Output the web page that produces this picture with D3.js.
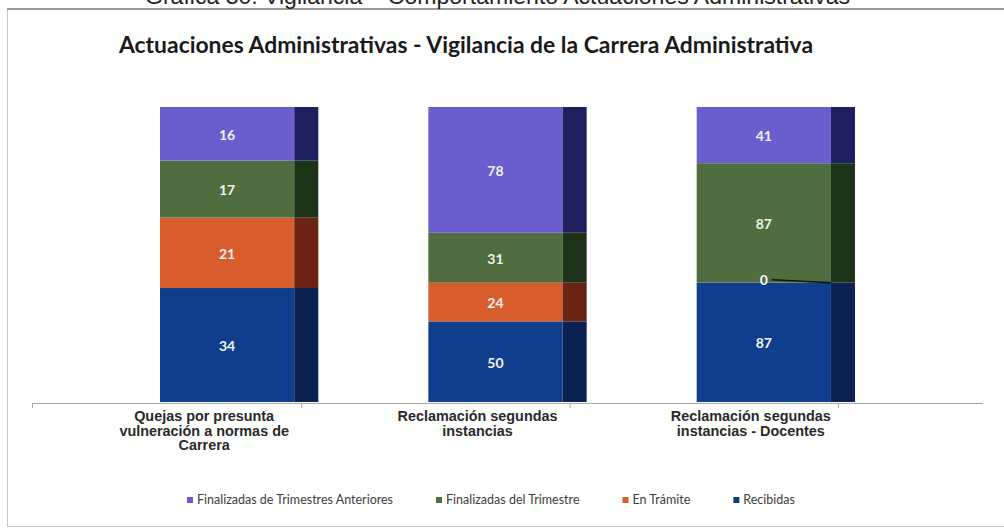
<!DOCTYPE html>
<html>
<head>
<meta charset="utf-8">
<script src="https://cdn.jsdelivr.net/npm/d3@7"></script>
<style>
  body { margin: 0; background: #fff; }
  svg { display: block; }
</style>
</head>
<body>
<svg class="chart"></svg>
<script>
const categories = ['Quejas por presunta vulneración a normas de Carrera', 'Reclamación segundas instancias', 'Reclamación segundas instancias - Docentes'];
const categoryLines = [
    ['Quejas por presunta', 'vulneración a normas de', 'Carrera'],
    ['Reclamación segundas', 'instancias'],
    ['Reclamación segundas', 'instancias - Docentes']
];
const seriesNames = ['Recibidas', 'En Trámite', 'Finalizadas del Trimestre', 'Finalizadas de Trimestres Anteriores'];
const recibidas = [34, 50, 87];
const enTramite = [21, 24, 0];
const finalizadasTrimestre = [17, 31, 87];
const finalizadasAnteriores = [16, 78, 41];
const legendOrder = ['Finalizadas de Trimestres Anteriores', 'Finalizadas del Trimestre', 'En Trámite', 'Recibidas'];

const colors = {
    'Recibidas': {front: '#0f3f8c', side: '#0a2152'},
    'En Trámite': {front: '#d85d2d', side: '#6b2414'},
    'Finalizadas del Trimestre': {front: '#4f6d3e', side: '#1c3318'},
    'Finalizadas de Trimestres Anteriores': {front: '#6a5dcd', side: '#1d1f5e'}
};

const width = 1004;
const height = 528;
const marginTop = 107;
const marginBottom = 126; // axis baseline at 402
const axisLeft = 32;
const axisRight = 983;
const sideFraction = 0.152; // dark side strip of the column

const table = categories.map((c, i) => ({
    category: c,
    'Recibidas': recibidas[i],
    'En Trámite': enTramite[i],
    'Finalizadas del Trimestre': finalizadasTrimestre[i],
    'Finalizadas de Trimestres Anteriores': finalizadasAnteriores[i]
}));

const stacked = d3.stack()
    .keys(seriesNames)
    .offset(d3.stackOffsetExpand)(table);

const xScale = d3.scaleBand()
    .domain(categories)
    .range([axisLeft, axisRight])
    .paddingInner(0.41)
    .paddingOuter(0.477);

const yScale = d3.scaleLinear()
    .domain([0, 1])
    .range([height - marginBottom, marginTop]);

const bw = xScale.bandwidth();
const sideW = bw * sideFraction;
const frontW = bw - sideW;

// category labels sit a little left of the columns (perspective of the 3D plot)
const labelScale = d3.scalePoint()
    .domain(categories)
    .range([xScale(categories[0]) + bw / 2 - 35, xScale(categories[categories.length - 1]) + bw / 2 - 25]);

const svg = d3.select('.chart')
    .attr('width', width)
    .attr('height', height)
    .attr('viewBox', [0, 0, width, height]);

// chart frame
svg.append('rect')
    .attr('x', 7.5)
    .attr('y', 9)
    .attr('width', 1010)
    .attr('height', 517.5)
    .attr('fill', '#fff')
    .attr('stroke', '#c8c8c8')
    .attr('stroke-width', 1);
svg.append('line')
    .attr('x1', 7).attr('x2', width)
    .attr('y1', 9).attr('y2', 9)
    .attr('stroke', '#9a9a9a')
    .attr('stroke-width', 2);

// caption cut at the top of the scan
svg.append('text')
    .attr('x', 145)
    .attr('y', 4)
    .attr('textLength', 705)
    .attr('lengthAdjust', 'spacingAndGlyphs')
    .attr('font-family', 'Liberation Sans, Arial, sans-serif')
    .attr('font-size', 22)
    .attr('fill', '#222')
    .text('Gráfica 30. Vigilancia – Comportamiento Actuaciones Administrativas');

svg.append('text')
    .attr('x', 119)
    .attr('y', 53)
    .attr('textLength', 694)
    .attr('lengthAdjust', 'spacingAndGlyphs')
    .attr('font-family', 'Lato, Carlito, Calibri, sans-serif')
    .attr('font-weight', 'bold')
    .attr('font-size', 22.5)
    .attr('fill', '#1a1a1a')
    .text('Actuaciones Administrativas - Vigilancia de la Carrera Administrativa');

// columns
const groups = svg.append('g')
    .selectAll('g')
    .data(stacked)
    .join('g');

groups.selectAll('rect.front')
    .data(s => s.map(d => ({key: s.key, d})))
    .join('rect')
        .attr('class', 'front')
        .attr('x', p => xScale(p.d.data.category))
        .attr('y', p => yScale(p.d[1]))
        .attr('width', frontW)
        .attr('height', p => yScale(p.d[0]) - yScale(p.d[1]))
        .attr('fill', p => colors[p.key].front);

groups.selectAll('rect.side')
    .data(s => s.map(d => ({key: s.key, d})))
    .join('rect')
        .attr('class', 'side')
        .attr('x', p => xScale(p.d.data.category) + frontW)
        .attr('y', p => yScale(p.d[1]))
        .attr('width', sideW)
        .attr('height', p => yScale(p.d[0]) - yScale(p.d[1]))
        .attr('fill', p => colors[p.key].side);

// value labels
const labels = stacked.flatMap(s => s.map(d => ({key: s.key, d, value: d.data[s.key]})));

svg.append('g')
    .selectAll('text')
    .data(labels)
    .join('text')
        .attr('x', p => xScale(p.d.data.category) + frontW / 2)
        .attr('y', p => p.value === 0 ? yScale(p.d[1]) - 3 : (yScale(p.d[0]) + yScale(p.d[1])) / 2 + 1)
        .attr('dy', '0.35em')
        .attr('text-anchor', 'middle')
        .attr('font-family', 'Lato, Carlito, Calibri, sans-serif')
        .attr('font-weight', 'bold')
        .attr('font-size', 14)
        .attr('fill', '#f2f2f2')
        .text(p => p.value);

// leader line for zero value
svg.append('g')
    .selectAll('line')
    .data(labels.filter(p => p.value === 0))
    .join('line')
        .attr('x1', p => xScale(p.d.data.category) + frontW / 2 + 8)
        .attr('y1', p => yScale(p.d[1]) - 3)
        .attr('x2', p => xScale(p.d.data.category) + frontW)
        .attr('y2', p => yScale(p.d[1]))
        .attr('stroke', '#111')
        .attr('stroke-width', 1.5);

// category axis
const axisY = height - marginBottom + 1;
svg.append('line')
    .attr('x1', axisLeft).attr('x2', axisRight)
    .attr('y1', axisY + 0.5).attr('y2', axisY + 0.5)
    .attr('stroke', '#a6a6a6');

const tickXs = [axisLeft].concat(categories.map(c => xScale(c) + frontW + 7));
svg.append('g')
    .selectAll('line')
    .data(tickXs)
    .join('line')
        .attr('x1', d => d + 0.5).attr('x2', d => d + 0.5)
        .attr('y1', axisY).attr('y2', axisY + 5)
        .attr('stroke', '#a6a6a6');

const catLabel = svg.append('g')
    .selectAll('text')
    .data(categories)
    .join('text')
        .attr('x', c => labelScale(c))
        .attr('y', 421)
        .attr('text-anchor', 'middle')
        .attr('font-family', 'Liberation Sans Narrow, Arial Narrow, Liberation Sans, sans-serif')
        .attr('font-weight', 'bold')
        .attr('font-size', 14.4)
        .attr('fill', '#2a2a2a');

catLabel.selectAll('tspan')
    .data((c, i) => categoryLines[i])
    .join('tspan')
        .attr('x', function() { return this.parentNode.getAttribute('x'); })
        .attr('dy', (d, i) => i === 0 ? 0 : 14.5)
        .text(d => d);

// legend
const legend = svg.append('g').attr('transform', 'translate(0,500)');
const items = legend.selectAll('g')
    .data(legendOrder)
    .join('g');

items.append('rect')
    .attr('y', -3)
    .attr('width', 6)
    .attr('height', 6)
    .attr('fill', d => colors[d].front);

items.append('text')
    .attr('x', 10)
    .attr('dy', '0.35em')
    .attr('font-family', 'Lato, Carlito, Calibri, sans-serif')
    .attr('font-size', 12.5)
    .attr('fill', '#404040')
    .text(d => d);

let cursor = 187;
items.each(function() {
    const g = d3.select(this);
    g.attr('transform', `translate(${cursor},0)`);
    cursor += 10 + g.select('text').node().getComputedTextLength() + 43;
});
</script>
</body>
</html>
